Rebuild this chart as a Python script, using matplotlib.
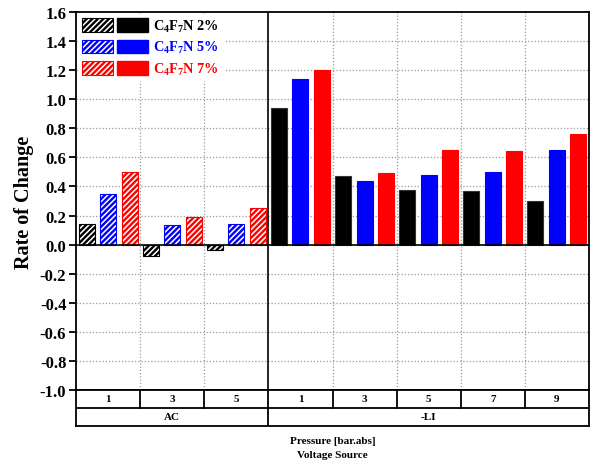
import matplotlib
matplotlib.use("Agg")
import matplotlib.pyplot as plt
from matplotlib.patches import Patch
from matplotlib.legend_handler import HandlerTuple
import numpy as np

plt.rcParams['font.family'] = ['Liberation Serif', 'DejaVu Serif']
plt.rcParams['font.weight'] = 'bold'
plt.rcParams['mathtext.default'] = 'regular'
plt.rcParams['hatch.linewidth'] = 1.7

sources = ["AC", "AC", "AC", "-LI", "-LI", "-LI", "-LI", "-LI"]
pressures = ["1", "3", "5", "1", "3", "5", "7", "9"]
series_names = ["C$_4$F$_7$N 2%", "C$_4$F$_7$N 5%", "C$_4$F$_7$N 7%"]
colors = ["black", "blue", "red"]
vals_2 = [0.14, -0.075, -0.035, 0.94, 0.47, 0.375, 0.37, 0.30]
vals_5 = [0.35, 0.133, 0.145, 1.14, 0.44, 0.48, 0.50, 0.65]
vals_7 = [0.50, 0.19, 0.253, 1.20, 0.495, 0.65, 0.645, 0.76]
series = [vals_2, vals_5, vals_7]
yticks = [-1.0, -0.8, -0.6, -0.4, -0.2, 0.0, 0.2, 0.4, 0.6, 0.8, 1.0, 1.2, 1.4, 1.6]

fig = plt.figure(figsize=(5.93, 4.64), dpi=100)
ax = fig.add_axes([76/593, 1-391/464, 513/593, 378/464])
n = len(pressures)
x = np.arange(n)
offsets = [-0.335, 0.0, 0.335]
width = 0.25
n_ac = sources.count("AC")
grid_col = '#9a9a9a'
grid_ls = (0, (1.0, 1.6))

for vals, col, off in zip(series, colors, offsets):
    for i in range(n):
        if sources[i] == "AC":
            ax.bar(x[i] + off, vals[i], width, facecolor='white', edgecolor=col,
                   hatch='//////', linewidth=0.8, zorder=3)
        else:
            ax.bar(x[i] + off, vals[i], width, facecolor=col,
                   edgecolor='#333333' if col == 'black' else col,
                   linewidth=0.8, zorder=3)

ax.set_xlim(-0.5, n - 0.5)
ax.set_ylim(-1.0, 1.6)
ax.set_yticks(yticks)
ax.set_yticklabels([f"{v:.1f}" for v in yticks], fontsize=12, fontweight='bold')
ax.set_xticks([])
for yv in yticks:
    if yv not in (0.0, -1.0, 1.6):
        ax.axhline(yv, color=grid_col, lw=0.9, ls=grid_ls, zorder=1)
ax.axhline(0.0, color='black', lw=1.2, zorder=4)
for b in np.arange(0.5, n - 0.5, 1.0):
    if abs(b - (n_ac - 0.5)) < 1e-6:
        ax.axvline(b, color='black', lw=1.2, zorder=4)
    else:
        ax.axvline(b, color=grid_col, lw=0.9, ls=grid_ls, zorder=1)
for s in ax.spines.values():
    s.set_linewidth(1.3)
ax.tick_params(axis='y', direction='out', length=5, width=1.3, pad=2)
ax.set_ylabel("Rate of Change", fontsize=14.5, fontweight='bold', labelpad=4)

handles = []
for col in colors:
    h1 = Patch(facecolor='white', edgecolor=col, hatch='//////', linewidth=0.8)
    h2 = Patch(facecolor=col, edgecolor=col)
    handles.append((h1, h2))
leg = ax.legend(handles, series_names, handler_map={tuple: HandlerTuple(ndivide=None, pad=0.34)},
                loc='upper left', bbox_to_anchor=(0.0, 1.0), frameon=True, fancybox=False,
                edgecolor='white', framealpha=1.0, handlelength=4.65, handleheight=1.1,
                handletextpad=0.34, labelspacing=0.38, borderaxespad=0.15, borderpad=0.25,
                prop={'family': 'Liberation Serif', 'weight': 'bold', 'size': 10.3},
                labelcolor=colors)
leg.set_zorder(5)

# category table below
tab = fig.add_axes([76/593, 1-427/464, 513/593, 36/464])
tab.set_xlim(-0.5, n - 0.5)
tab.set_ylim(0, 2)
tab.set_xticks([]); tab.set_yticks([])
for s in tab.spines.values():
    s.set_linewidth(1.3)
tab.axhline(1.0, color='black', lw=1.3)
for b in np.arange(0.5, n - 0.5, 1.0):
    ymin = 0.0 if abs(b - (n_ac - 0.5)) < 1e-6 else 0.5
    tab.axvline(b, ymin=ymin, ymax=1.0, color='black', lw=1.3)
for i in range(n):
    tab.text(x[i], 1.5, pressures[i], ha='center', va='center', fontsize=8, fontweight='bold')
groups = []
for i, s in enumerate(sources):
    if not groups or groups[-1][0] != s:
        groups.append([s, i, i])
    else:
        groups[-1][2] = i
for s, a, b in groups:
    tab.text((a + b) / 2, 0.5, s, ha='center', va='center', fontsize=8, fontweight='bold')

fig.text(332.5/593, 1-442/464, "Pressure [bar.abs]", ha='center', va='center', fontsize=8, fontweight='bold')
fig.text(332.5/593, 1-456/464, "Voltage Source", ha='center', va='center', fontsize=8, fontweight='bold')

fig.savefig("out.png", dpi=100)
